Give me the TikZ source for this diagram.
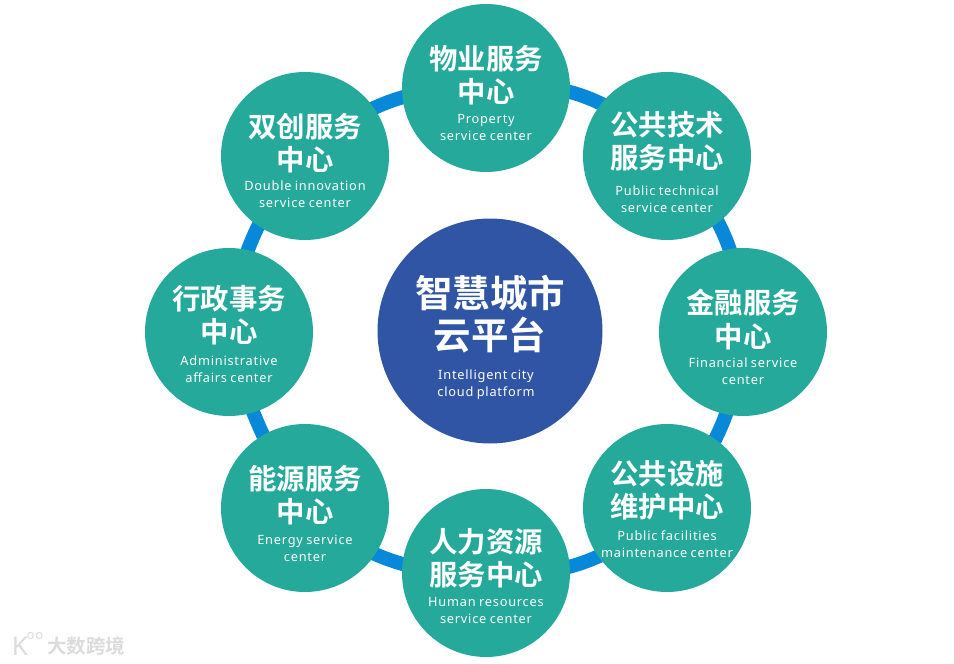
\documentclass[tikz,border=0pt]{standalone}
\usepackage{fontspec}
\usetikzlibrary{backgrounds}
\setmainfont[LetterSpace=6]{Noto Sans}
\newfontfamily\cjk[BoldFont={Noto Sans CJK SC Bold}]{Noto Sans CJK SC}
\definecolor{tealc}{HTML}{24A99A}
\definecolor{bluec}{HTML}{2F55A4}
\definecolor{ringc}{HTML}{0888D8}
\newcommand{\hz}[1]{{\cjk\bfseries\fontsize{28.4}{33.5}\selectfont #1\par}}
\newcommand{\en}[1]{{\fontsize{12.8}{17}\selectfont #1\par}}
\tikzset{
  hub/.style={circle,fill=tealc,minimum size=168pt,inner sep=0pt,text=white},
  centre/.style={circle,fill=bluec,minimum size=225pt,inner sep=0pt,text=white},
  lbl/.style={text=white,align=center,inner sep=0pt,text width=150pt},
  ring/.style={draw=ringc,line width=14pt},
  wmark/.style={text=black!14,inner sep=0pt}
}
\begin{document}
\begin{tikzpicture}[x=1pt,y=-1pt]
\useasboundingbox (0,0) rectangle (954,664);
\node[hub] (a) at (486,88) {};
\node[hub] (b) at (667,156) {};
\node[hub] (c) at (743,332) {};
\node[hub] (d) at (667,508) {};
\node[hub] (e) at (486,573) {};
\node[hub] (f) at (305,508) {};
\node[hub] (g) at (229,332) {};
\node[hub] (h) at (305,156) {};
\node[centre] (m) at (490,331) {};
\begin{scope}[on background layer]
\draw[ring,bend left=28] (a.center) to (b.center);
\draw[ring,bend left=22] (b.center) to (c.center);
\draw[ring,bend left=18] (c.center) to (d.center);
\draw[ring,bend left=24] (d.center) to (e.center);
\draw[ring,bend left=21] (e.center) to (f.center);
\draw[ring,bend left=10] (f.center) to (g.center);
\draw[ring,bend left=16] (g.center) to (h.center);
\draw[ring,bend left=22] (h.center) to (a.center);
\end{scope}
\node[lbl,anchor=north] (ta) at (486,45) {\hz{物业服务\\中心}\vspace{4pt}\en{Property\\service center}};
\node[lbl,anchor=north] (tb) at (667,111) {\hz{公共技术\\服务中心}\vspace{10pt}\en{Public technical\\service center}};
\node[lbl,anchor=north] (tc) at (743,289) {\hz{金融服务\\中心}\vspace{3pt}\en{Financial service\\center}};
\node[lbl,anchor=north] (td) at (667,460) {\hz{公共设施\\维护中心}\vspace{6pt}\en{Public facilities\\maintenance center}};
\node[lbl,anchor=north] (te) at (486,528) {\hz{人力资源\\服务中心}\vspace{4pt}\en{Human resources\\service center}};
\node[lbl,anchor=north] (tf) at (305,465) {\hz{能源服务\\中心}\vspace{5pt}\en{Energy service\\center}};
\node[lbl,anchor=north] (tg) at (229,285) {\hz{行政事务\\中心}\vspace{6pt}\en{Administrative\\affairs center}};
\node[lbl,anchor=north] (th) at (305,113) {\hz{双创服务\\中心}\vspace{3pt}\en{Double innovation\\service center}};
\node[lbl,anchor=north,text width=200pt] (tm) at (490,275) {{\cjk\bfseries\fontsize{37.5}{42}\selectfont 智慧城市\\云平台\par}\vspace{13pt}\en{\hspace*{-8pt}Intelligent city\\\hspace*{-8pt}cloud platform}};
\node[wmark,font=\cjk\bfseries\fontsize{19.5}{19.5}\selectfont] (wm) at (86,646) {大数跨境};
\node[wmark,font=\fontsize{26}{26}\selectfont\bfseries] (wk) at (20,646) {K};
\node[wmark,font=\fontsize{13}{13}\selectfont\bfseries] (wo) at (35,636) {oo};
\end{tikzpicture}
\end{document}
